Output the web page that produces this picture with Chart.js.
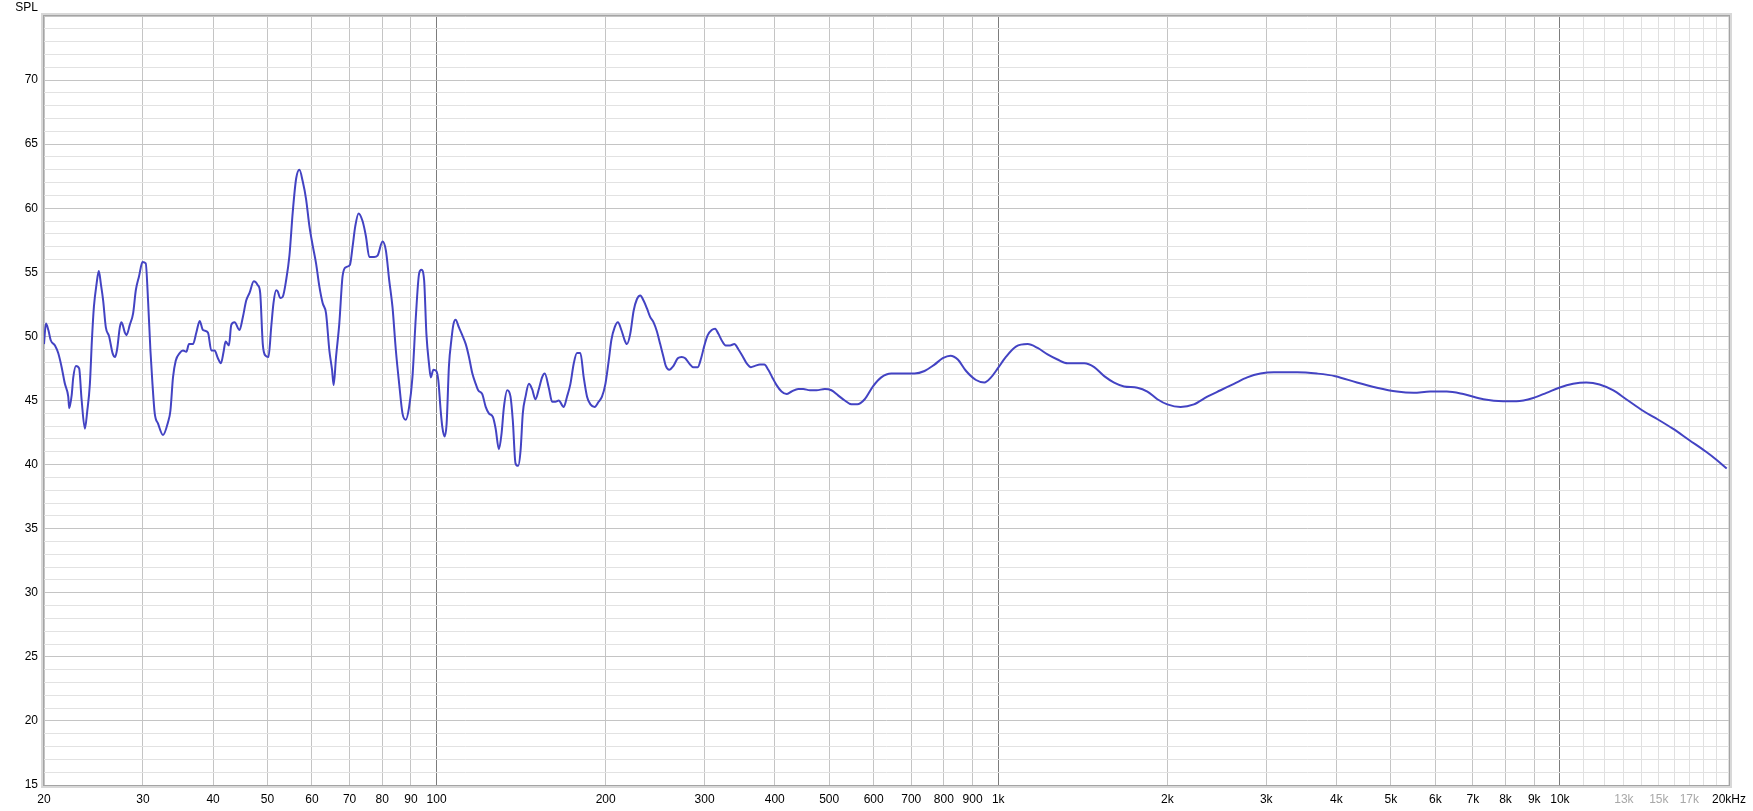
<!DOCTYPE html>
<html>
<head>
<meta charset="utf-8">
<script src="https://cdn.jsdelivr.net/npm/chart.js@4.4.1/dist/chart.umd.min.js"></script>
<style>
  html, body { margin: 0; padding: 0; background: #ffffff; }
  #wrap { position: relative; width: 1753px; height: 811px; }
</style>
</head>
<body>
<div id="wrap"><canvas id="c"></canvas></div>
<script>
// ---- data (frequency in Hz, SPL in dB) ----
const freqHz = [
  20.0,20.16,20.36,20.56,20.92,21.2,21.5,21.79,22.09,22.18,
  22.4,22.55,22.8,23.1,23.33,23.65,23.87,24.14,24.34,24.54,
  24.81,25.04,25.25,25.49,25.77,26.12,26.49,26.77,26.99,27.29,
  27.48,27.86,28.05,28.43,28.82,29.14,29.53,29.95,30.35,30.64,
  30.94,31.2,31.49,31.92,32.58,33.25,33.58,33.94,34.32,34.88,
  35.36,35.85,36.24,36.83,37.35,37.86,38.37,39.17,39.71,40.25,
  40.8,41.3,41.76,42.1,42.68,43.1,43.68,44.58,45.19,45.82,
  46.45,47.27,48.05,48.52,49.04,49.59,50.2,50.76,51.24,51.81,
  52.15,52.66,53.22,53.97,54.7,55.45,56.22,56.99,57.76,58.57,
  59.37,60.17,61.01,61.84,62.68,63.56,64.43,65.14,65.57,66.22,
  67.11,68.02,68.98,70.12,70.87,71.65,72.63,73.82,74.86,75.88,
  77.44,78.5,80.12,81.24,82.34,83.46,84.63,85.78,86.95,88.16,
  89.36,90.57,91.84,93.08,93.96,95.01,95.91,96.97,97.65,98.69,
  99.91,100.7,101.7,102.4,103.3,104.2,105.2,106.3,107.1,108.1,
  109.6,111.1,112.7,114.2,115.8,117.4,118.6,
  120.6,122.3,123.9,126.0,127.4,129.1,130.5,131.8,133.6,135.4,
  136.7,138.2,139.7,141.1,142.4,144.0,146.0,147.9,150.0,152.1,
  154.1,155.8,158.4,160.6,162.8,165.0,168.4,170.7,173.1,175.5,
  177.8,180.3,182.8,185.3,187.9,191.2,194.3,197.0,199.8,202.5,
  204.7,207.5,210.3,213.3,216.2,218.2,221.2,224.3,227.3,230.5,
  233.6,236.8,240.1,243.4,246.7,250.1,253.5,255.9,259.5,264.1,
  268.8,273.2,277.1,281.6,286.6,291.7,295.8,299.8,303.9,308.9,
  313.2,317.5,322.7,327.1,333.0,339.0,344.5,350.2,356.5,362.9,
  368.9,376.5,383.2,389.5,396.0,403.0,411.3,419.8,428.5,440.4,
  449.5,462.0,474.6,491.2,504.6,518.6,533.0,547.6,561.2,578.4,
  598.4,619.0,644.9,671.8,709.6,739.2,770,796.6,822,847.3,
  876.5,912.8,944.8,970.8,997.8,1032,1075,1128,1175,1224,
  1275,1329,1423,1482,1544,1608,1675,1769,1843,1920,
  2000,2112,2230,2356,2488,2628,2775,2930,3095,3268,
  3404,3694,3982,4350,4722,5125,5487,5871,6288,6730,
  7306,7926,8370,8962,9464,9968,10554,11143,11765,12428,
  13122,14054,14840,15887,17006,18208,18969,19812
];
const splDb = [
  49.4,51.0,50.5,49.7,49.3,48.7,47.6,46.3,45.3,44.4,
  45.4,46.8,47.7,47.5,45.1,42.8,44.1,46.3,49.7,52.3,
  54.1,55.1,54.1,52.8,50.7,50.0,48.7,48.4,49.0,50.7,
  51.1,50.3,50.1,50.9,51.8,53.6,54.7,55.8,55.7,52.8,
  48.9,46.3,44.0,43.2,42.3,43.3,44.2,46.8,48.1,48.7,
  48.9,48.8,49.4,49.4,50.3,51.2,50.5,50.3,48.9,48.9,
  48.3,47.9,48.8,49.6,49.3,50.9,51.1,50.5,51.5,52.8,
  53.4,54.3,54.0,53.4,49.4,48.5,48.4,50.7,52.6,53.6,
  53.5,53.0,53.1,54.4,56.3,59.7,62.3,63.0,62.1,60.7,
  58.6,57.1,55.7,53.9,52.6,51.8,48.9,47.4,46.2,48.4,
  51.0,54.7,55.4,55.6,57.0,58.6,59.6,59.0,57.8,56.2,
  56.2,56.3,57.4,56.7,54.4,52.3,48.9,46.3,44.0,43.5,
  44.5,46.8,51.5,54.9,55.2,54.4,50.2,47.8,46.8,47.4,
  47.3,46.6,44.2,42.9,42.2,43.2,47.7,49.8,50.9,51.3,
  50.7,50.1,49.4,48.4,47.1,46.3,45.8,
  45.5,44.5,44.0,43.7,42.8,41.2,42.4,44.5,45.8,45.3,
  43.4,40.1,39.9,41.1,44.0,45.3,46.3,45.9,45.1,45.9,
  46.8,47.1,46.0,44.9,44.9,45.0,44.5,45.3,46.3,47.9,
  48.7,48.7,46.8,45.3,44.7,44.5,44.9,45.3,46.3,48.1,
  49.7,50.7,51.1,50.5,49.7,49.4,50.2,52.0,52.9,53.2,
  52.8,52.2,51.5,51.1,50.4,49.4,48.4,47.7,47.4,47.7,
  48.3,48.4,48.3,47.9,47.6,47.6,48.3,49.3,50.1,50.5,
  50.6,50.2,49.6,49.3,49.3,49.4,49.0,48.5,47.9,47.6,
  47.7,47.8,47.8,47.4,46.8,46.2,45.7,45.5,45.7,45.9,
  45.9,45.8,45.8,45.9,45.8,45.4,45.0,44.7,44.7,45.1,
  46.1,46.8,47.1,47.1,47.1,47.3,47.8,48.3,48.5,48.2,
  47.3,46.6,46.4,46.8,47.5,48.4,49.2,49.4,49.1,48.6,
  48.2,47.9,47.9,47.6,46.9,46.4,46.1,46.0,45.7,45.1,
  44.7,44.5,44.7,45.3,45.8,46.3,46.8,47.1,47.2,47.2,
  47.2,47.1,46.9,46.4,46.0,45.7,45.6,45.7,45.7,45.5,
  45.1,44.95,44.95,45.2,45.6,46.0,46.3,46.4,46.25,45.8,
  45.1,44.2,43.6,42.8,41.9,41.0,40.4,39.7
];

// ---- axes ----
const yMin = 15, yMax = 75;
const yLabelValues = [15,20,25,30,35,40,45,50,55,60,65,70];
const yAxisTitle = "SPL";

const xMin = 20, xMax = 20000;
const xGridValues = [
  20,30,40,50,60,70,80,90,
  100,200,300,400,500,600,700,800,900,
  1000,2000,3000,4000,5000,6000,7000,8000,9000,
  10000,11000,12000,13000,14000,15000,16000,17000,18000,19000,20000
];
const xLabelValues = [20,30,40,50,60,70,80,90,100,200,300,400,500,600,700,800,900,
  1000,2000,3000,4000,5000,6000,7000,8000,9000,10000,13000,15000,17000,20000];
const xLabelTexts = ["20","30","40","50","60","70","80","90","100","200","300","400","500","600","700","800","900",
  "1k","2k","3k","4k","5k","6k","7k","8k","9k","10k","13k","15k","17k","20kHz"];
const xFadedLabels = [13000,15000,17000];
const xDecadeLines = [100,1000,10000];

const FONT = { family: "'Liberation Sans', Arial, sans-serif", size: 12 };

const framePlugin = {
  id: 'frame',
  afterDraw(chart) {
    const { ctx, chartArea: a } = chart;
    ctx.save();
    ctx.strokeStyle = '#d8d8d8';
    ctx.lineWidth = 3;
    ctx.strokeRect(a.left - 1.5, a.top - 1.5, a.right - a.left + 3, a.bottom - a.top + 3);
    ctx.strokeStyle = '#a4a4a4';
    ctx.lineWidth = 1;
    ctx.strokeRect(a.left - 0.5, a.top - 0.5, a.right - a.left + 1, a.bottom - a.top + 1);
    ctx.fillStyle = '#000';
    ctx.font = FONT.size + 'px ' + FONT.family;
    ctx.textAlign = 'right';
    ctx.textBaseline = 'middle';
    ctx.fillText(yAxisTitle, a.left - 6, 8);
    ctx.restore();
  }
};

const labelMap = new Map(xLabelValues.map((v, i) => [v, xLabelTexts[i]]));

new Chart(document.getElementById('c'), {
  type: 'line',
  data: {
    datasets: [{
      data: freqHz.map((f, i) => ({ x: f, y: splDb[i] })),
      borderColor: '#4343c3',
      borderWidth: 2,
      pointRadius: 0,
      fill: false,
      cubicInterpolationMode: 'monotone'
    }]
  },
  options: {
    responsive: true,
    maintainAspectRatio: false,
    animation: false,
    layout: { padding: { left: 0, right: 21, top: 16, bottom: 0 } },
    plugins: { legend: { display: false }, tooltip: { enabled: false } },
    scales: {
      x: {
        type: 'logarithmic',
        min: xMin, max: xMax,
        afterBuildTicks(scale) { scale.ticks = xGridValues.map(v => ({ value: v })); },
        afterFit(scale) { scale.height = 26; },
        border: { display: false },
        grid: {
          drawTicks: false,
          color(ctx) {
            const v = ctx.tick && ctx.tick.value;
            if (xDecadeLines.includes(v)) return '#7c7c7c';
            if (v > 10000) return '#e0e0e0';
            return '#c4c4c4';
          }
        },
        ticks: {
          autoSkip: false, maxRotation: 0, minRotation: 0, padding: 7,
          font: FONT,
          color(ctx) { return xFadedLabels.includes(ctx.tick && ctx.tick.value) ? '#a8a8a8' : '#000'; },
          callback(value) { return labelMap.has(value) ? labelMap.get(value) : ''; }
        }
      },
      y: {
        type: 'linear',
        min: yMin, max: yMax,
        afterFit(scale) { scale.width = 44; },
        border: { display: false },
        grid: {
          drawTicks: false,
          color(ctx) {
            const v = ctx.tick && ctx.tick.value;
            return (v % 5 === 0) ? '#c4c4c4' : '#e2e2e2';
          }
        },
        ticks: {
          stepSize: 1, autoSkip: false, padding: 6,
          font: FONT, color: '#000',
          callback(value) { return yLabelValues.includes(value) ? String(value) : ''; }
        }
      }
    }
  },
  plugins: [framePlugin]
});
</script>
</body>
</html>
